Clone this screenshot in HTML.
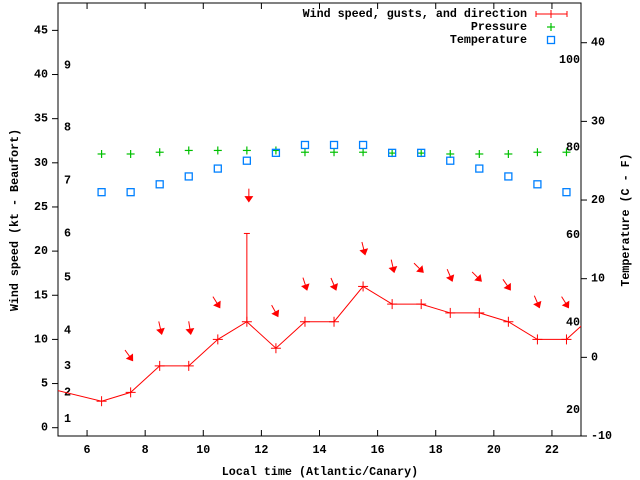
<!DOCTYPE html>
<html><head><meta charset="utf-8"><style>
html,body{margin:0;padding:0;background:#fff;}
svg{display:block;font-family:"Liberation Mono",monospace;font-weight:bold;font-size:11.7px;}
</style></head><body>
<svg id="chart" width="640" height="480" viewBox="0 0 640 480" xmlns="http://www.w3.org/2000/svg"></svg>
<script>
const hours = [4.5,6.5,7.5,8.5,9.5,10.5,11.5,12.5,13.5,14.5,15.5,16.5,17.5,18.5,19.5,20.5,21.5,22.5,23.5];
const windKt = [4.6,3,4,7,7,10,12,9,12,12,16,14,14,13,13,12,10,10,13];
const gustKt = [null,null,null,null,null,null,22,null,null,null,null,null,null,null,null,null,null,null,null];
const windDir = [null,null,324,347,351,328,360,331,342,337,346,347,315,337,315,325,337,328,null];
const tempHours = [6.5,7.5,8.5,9.5,10.5,11.5,12.5,13.5,14.5,15.5,16.5,17.5,18.5,19.5,20.5,21.5,22.5];
const tempC = [21,21,22,23,24,25,26,27,27,27,26,26,25,24,23,22,21];
const pressureHpa = [1021.0,1021.0,1021.2,1021.4,1021.4,1021.4,1021.4,1021.2,1021.2,1021.2,1021.1,1021.1,1021.0,1021.0,1021.0,1021.2,1021.2];
const xTicks = [6,8,10,12,14,16,18,20,22];
const yTicks = [0,5,10,15,20,25,30,35,40,45];
const y2Ticks = [-10,0,10,20,30,40];
const beaufortKt = [1,4,7,11,17,22,28,34,41];
const beaufortLabels = ["1","2","3","4","5","6","7","8","9"];
const fahrenheit = [20,40,60,80,100];

const L=58,R=581,T=3,B=436;
const xMin=5,xMax=23,yMin=-0.94,yMax=48.1,y2Min=-10,y2Max=45.05;
const X=v=>L+(v-xMin)/(xMax-xMin)*(R-L);
const Y=v=>B-(v-yMin)/(yMax-yMin)*(B-T);
const Y2=v=>B-(v-y2Min)/(y2Max-y2Min)*(B-T);
const YP=p=>Y(p-990);
const svg=document.getElementById('chart');
const NS='http://www.w3.org/2000/svg';
function mk(tag,attrs,parent){const e=document.createElementNS(NS,tag);for(const k in attrs)e.setAttribute(k,attrs[k]);(parent||svg).appendChild(e);return e;}
function txt(x,y,s,anchor,parent,extra){const e=mk('text',Object.assign({x:x,y:y,'text-anchor':anchor||'start','dominant-baseline':'central',fill:'#000'},extra||{}),parent);e.textContent=s;return e;}

const defs=mk('defs',{});
const cp=mk('clipPath',{id:'clip'},defs);mk('rect',{x:L,y:T,width:R-L,height:B-T},cp);

// axes frame
const frame=mk('rect',{x:L,y:T,width:R-L,height:B-T,fill:'none',stroke:'#000','stroke-width':1});



xTicks.forEach(v=>{
  const g=mk('g',{});
  
  
  mk('line',{x1:X(v),x2:X(v),y1:B,y2:B-6,stroke:'#000'},g);
  mk('line',{x1:X(v),x2:X(v),y1:T,y2:T+6,stroke:'#000'},g);
  txt(X(v),B+14,String(v),'middle',g);
});
yTicks.forEach(v=>{
  const g=mk('g',{});
  
  
  mk('line',{x1:L,x2:L-6,y1:Y(v),y2:Y(v),stroke:'#000'},g);
  txt(L-10,Y(v),String(v),'end',g);
});
y2Ticks.forEach(v=>{
  const g=mk('g',{});
  
  
  mk('line',{x1:R,x2:R+6,y1:Y2(v),y2:Y2(v),stroke:'#000'},g);
  txt(R+10,Y2(v),String(v),'start',g);
});
beaufortKt.forEach((v,i)=>{
  const t=txt(64,Y(v),beaufortLabels[i],'start');
  
  
});
fahrenheit.forEach(f=>{
  const t=txt(R-1,Y2((f-32)*5/9),String(f),'end');
  
  
});

// axis titles
const yt=txt(0,0,'Wind speed (kt - Beaufort)','middle',null,{transform:'translate(15,220) rotate(-90)'});


const y2t=txt(0,0,'Temperature (C - F)','middle',null,{transform:'translate(626,220) rotate(-90)'});


const xt=txt(320,472,'Local time (Atlantic/Canary)','middle');



const plot=mk('g',{'clip-path':'url(#clip)'});


const red='#ff0000',green='#00c000',blue='#0080ff';

// wind line
const pts=hours.map((h,i)=>X(h)+','+Y(windKt[i])).join(' ');
const wl=mk('polyline',{points:pts,fill:'none',stroke:red,'stroke-width':1},plot);


hours.forEach((h,i)=>{
  const g=mk('g',{},plot);
  
  
  const x=X(h),y=Y(windKt[i]);
  mk('line',{x1:x-5,x2:x+5,y1:y,y2:y,stroke:red},g);
  mk('line',{x1:x,x2:x,y1:y-5,y2:y+5,stroke:red},g);
  if(gustKt[i]!=null){
    const gy=Y(gustKt[i]);
    mk('line',{x1:x,x2:x,y1:y,y2:gy,stroke:red},g);
    mk('line',{x1:x-3,x2:x+3,y1:gy,y2:gy,stroke:red},g);
  }
  if(windDir[i]!=null){
    const top=Math.max(windKt[i],gustKt[i]||0)+3.6;
    const hx=X(h)+2,hy=Y(top);
    const a=(windDir[i]+180)*Math.PI/180; // pointing direction
    const dx=Math.sin(a),dy=-Math.cos(a);
    const len=13;
    const sx=hx-dx*len,sy=hy-dy*len;
    const ag=mk('g',{},plot);
    
    
    mk('line',{x1:sx,y1:sy,x2:hx,y2:hy,stroke:red,'stroke-width':1},ag);
    const px=-dy,py=dx;
    const bx=hx-dx*5,by=hy-dy*5;
    mk('polygon',{points:`${hx},${hy} ${bx+px*3.5},${by+py*3.5} ${bx-px*3.5},${by-py*3.5}`,fill:red,stroke:red},ag);
  }
});

// pressure
tempHours.forEach((h,i)=>{
  const g=mk('g',{},plot);
  
  
  const x=X(h),y=YP(pressureHpa[i]);
  mk('line',{x1:x-4,x2:x+4,y1:y,y2:y,stroke:green,'stroke-width':1.2},g);
  mk('line',{x1:x,x2:x,y1:y-4,y2:y+4,stroke:green,'stroke-width':1.2},g);
});
// temperature
tempHours.forEach((h,i)=>{
  const r=mk('rect',{x:X(h)-3.5,y:Y2(tempC[i])-3.5,width:7,height:7,fill:'none',stroke:blue,'stroke-width':1.3},plot);
  
  
});

// legend
const lg=mk('g',{});


const e1=mk('g',{},lg);


txt(527,14,'Wind speed, gusts, and direction','end',e1);
mk('line',{x1:536,x2:567,y1:14,y2:14,stroke:red},e1);
mk('line',{x1:536,x2:536,y1:11,y2:17,stroke:red},e1);
mk('line',{x1:567,x2:567,y1:11,y2:17,stroke:red},e1);
mk('line',{x1:551,x2:551,y1:10,y2:18,stroke:red},e1);
const e2=mk('g',{},lg);


txt(527,27,'Pressure','end',e2);
mk('line',{x1:547,x2:555,y1:27,y2:27,stroke:green,'stroke-width':1.2},e2);
mk('line',{x1:551,x2:551,y1:23,y2:31,stroke:green,'stroke-width':1.2},e2);
const e3=mk('g',{},lg);


txt(527,40,'Temperature','end',e3);
mk('rect',{x:547.5,y:36.5,width:7,height:7,fill:'none',stroke:blue,'stroke-width':1.3},e3);
</script>
</body></html>
